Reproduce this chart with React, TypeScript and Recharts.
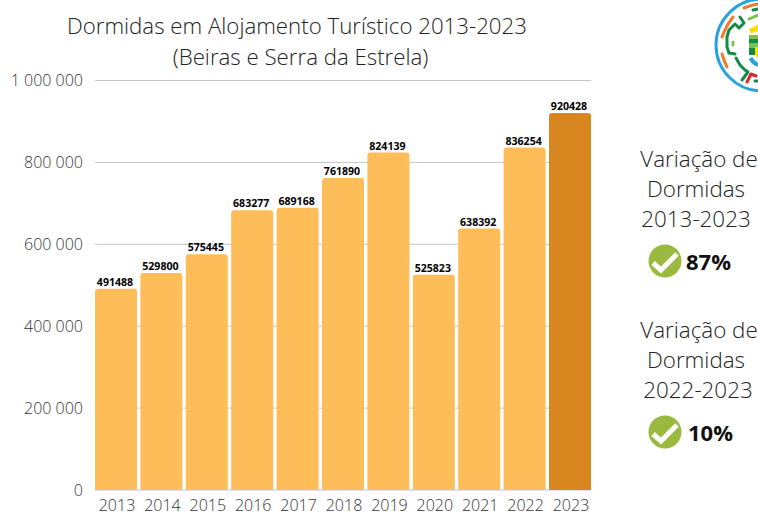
import { BarChart, Bar, XAxis, YAxis, CartesianGrid, Cell, LabelList } from "recharts";

const YEARS = ["2013", "2014", "2015", "2016", "2017", "2018", "2019", "2020", "2021", "2022", "2023"];
const DORMIDAS = [491488, 529800, 575445, 683277, 689168, 761890, 824139, 525823, 638392, 836254, 920428];
const Y_TICKS = [0, 200000, 400000, 600000, 800000, 1000000];

const FONT = "'Open Sans', sans-serif";
const BAR_COLOR = "#ffbd59";
const LAST_BAR_COLOR = "#d98720";

const chartData = YEARS.map((year, i) => ({ year, value: DORMIDAS[i] }));

// Thousands separated by a space, as in the original axis
function formatTick(value: number) {
    return value.toString().replace(/\B(?=(\d{3})+(?!\d))/g, " ");
}

function CheckIcon({ x, y }: { x: number; y: number }) {
    return (
        <svg width={34} height={34} viewBox="0 0 34 34" style={{ position: "absolute", left: x, top: y }}>
            <circle cx={17} cy={17} r={16.5} fill="#9bb93f" />
            <path d="M5 19 L13 26 L29 10" fill="none" stroke="#fff" strokeWidth={5} />
        </svg>
    );
}

function VariationBlock({ top, period, pct, pctX, periodX }: { top: number; period: string; pct: string; pctX: number; periodX: number }) {
    const line = { position: "absolute", left: 616, width: 160, textAlign: "center", fontWeight: 300, fontSize: 22.4, color: "#222", lineHeight: "30px" } as const;
    return (
        <>
            <div style={{ ...line, top, left: 619, whiteSpace: "nowrap" }}>Variação de</div>
            <div style={{ ...line, top: top + 29.5 }}>Dormidas</div>
            <div style={{ ...line, top: top + 60, left: periodX }}>{period}</div>
            <CheckIcon x={648} y={top + 100} />
            <div style={{ position: "absolute", left: pctX, top: top + 102, fontWeight: 700, fontSize: 22, color: "#111", lineHeight: "30px" }}>{pct}</div>
        </>
    );
}

// Partly cropped emblem in the top right corner
function Logo() {
    return (
        <svg width={758} height={110} style={{ position: "absolute", left: 0, top: 0 }}>
            <circle cx={762} cy={45} r={46} fill="none" stroke="#29a3dc" strokeWidth={3} />
            <path d="M749 29 L758 24.5 L758 31 L751 33.5 Z" fill="#ffdd00" />
            <rect x={749} y={35} width={9} height={4} fill="#7fbf4d" />
            <rect x={749} y={39} width={9} height={4} fill="#138a45" />
            <rect x={749} y={43} width={9} height={5} fill="#7fbf4d" />
            <rect x={749} y={48} width={9} height={7} fill="#138a45" />
            <path d="M755 47 L758 47 L758 58 L755 55 Z" fill="#ffdd00" />
            <g fill="none" strokeWidth={3} strokeLinecap="round" strokeLinejoin="round">
                <path d="M722 37 Q726 26 733 17" stroke="#ee7b30" />
                <path d="M722 54 Q724 61 727 67" stroke="#ee7b30" />
                <path d="M744 8 Q751 5 758 4" stroke="#ee7b30" />
                <path d="M740 17 L744 23 L739 28 L735 24 L729 30 L727 37 L727 47 L729 53 L735 54" stroke="#138a45" />
                <path d="M736 58 L740 65 L745 70 L748 72 L742 80" stroke="#138a45" />
                <path d="M753 10 L758 9" stroke="#138a45" />
                <path d="M755 81 L758 81" stroke="#138a45" />
                <path d="M747 82 L751 74 L756 76" stroke="#d9262c" />
                <path d="M733 42 L733 45" stroke="#7fbf4d" />
                <path d="M749 19 L758 15" stroke="#7fbf4d" />
                <path d="M750.5 58 Q753 63 758 65" stroke="#29a3dc" strokeWidth={4} strokeLinecap="butt" />
            </g>
        </svg>
    );
}

export default function App() {
    const title = { position: "absolute", width: 596, textAlign: "center", fontWeight: 300, fontSize: 22.25, color: "#222", lineHeight: "30px" } as const;
    return (
        <div style={{ position: "absolute", left: 0, top: 0, width: 758, height: 514, overflow: "hidden", background: "#fff", fontFamily: FONT }}>
            <BarChart
                width={758}
                height={514}
                data={chartData}
                margin={{ top: 80.5, right: 167, bottom: 0, left: 0 }}
                barCategoryGap={1.7}
            >
                <CartesianGrid vertical={false} stroke="#c4c4c4" />
                <XAxis
                    dataKey="year"
                    height={24}
                    axisLine={false}
                    tickLine={false}
                    tickMargin={4}
                    interval={0}
                    padding={{ left: -1.7, right: -1.7 }}
                    tick={{ fill: "#333", fontSize: 16, fontFamily: FONT, fontWeight: 300, dx: 1 }}
                />
                <YAxis
                    width={95}
                    domain={[0, 1000000]}
                    ticks={Y_TICKS}
                    tickFormatter={formatTick}
                    axisLine={false}
                    tickLine={false}
                    tickSize={0}
                    tickMargin={12}
                    tick={{ fill: "#333", fontSize: 16, fontFamily: FONT, fontWeight: 300 }}
                />
                <Bar dataKey="value" isAnimationActive={false} radius={[3, 3, 0, 0]}>
                    {chartData.map((d, i) => (
                        <Cell key={d.year} fill={i === chartData.length - 1 ? LAST_BAR_COLOR : BAR_COLOR} />
                    ))}
                    <LabelList dataKey="value" position="top" offset={3} style={{ fill: "#000", fontSize: 10.6, fontWeight: 700, fontFamily: FONT, transform: "translateX(-1px)" }} />
                </Bar>
            </BarChart>
            <div style={{ ...title, top: 11, left: -1 }}>Dormidas em Alojamento Turístico 2013-2023</div>
            <div style={{ ...title, top: 42, left: 2.5 }}>(Beiras e Serra da Estrela)</div>
            <Logo />
            <VariationBlock top={144} period="2013-2023" pct="87%" pctX={686} periodX={616} />
            <VariationBlock top={315} period="2022-2023" pct="10%" pctX={688} periodX={618} />
        </div>
    );
}
